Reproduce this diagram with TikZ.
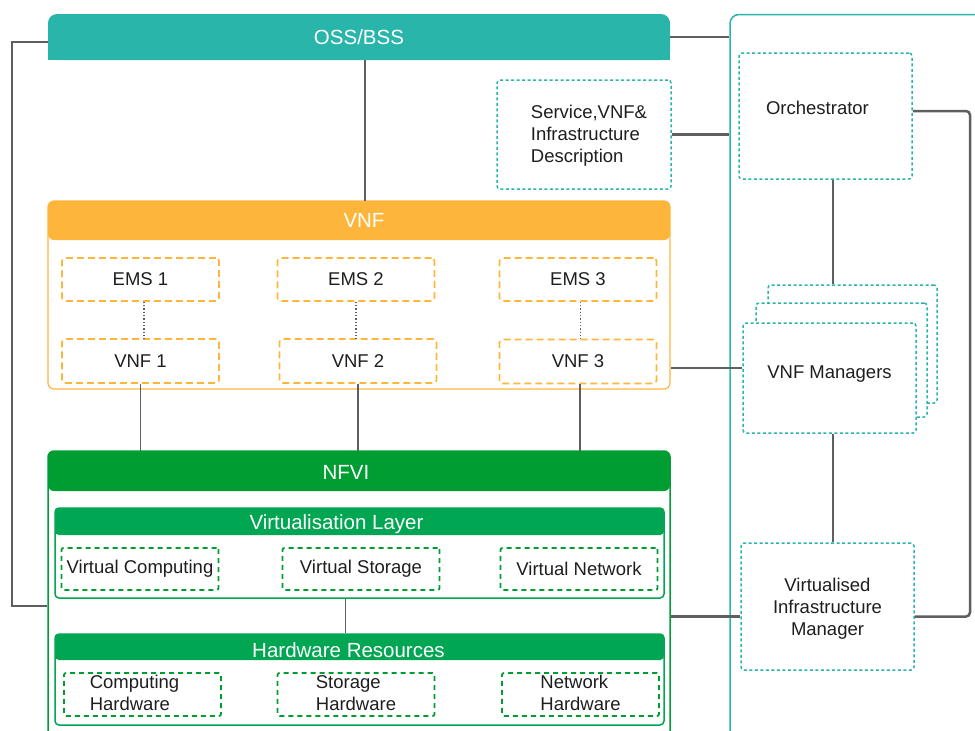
\documentclass[tikz,border=0pt]{standalone}
\usepackage{fontspec}
\setmainfont{Liberation Sans}
\usetikzlibrary{positioning}
\definecolor{ossteal}{RGB}{42, 181, 170}
\definecolor{vnforange}{RGB}{253, 181, 59}
\definecolor{nfvigreen}{RGB}{0, 158, 50}
\definecolor{layergreen}{RGB}{0, 166, 81}
\definecolor{linegray}{RGB}{95, 95, 95}
\definecolor{textgray}{RGB}{30, 30, 30}
\tikzset{labeltext/.style={font=\fontsize{18.5}{22}\selectfont,text=textgray,align=center}}
\tikzset{headtext/.style={font=\fontsize{20.5}{24}\selectfont,text=white,inner sep=0pt}}
\tikzset{tealdot/.style={draw=ossteal,line width=1.5pt,dash pattern=on 3pt off 2.5pt,rounded corners=3pt,fill=white,minimum width=173pt,inner sep=0pt,labeltext}}
\tikzset{orangedash/.style={draw=vnforange,line width=1.6pt,dash pattern=on 7pt off 4pt,rounded corners=3pt,minimum width=157pt,minimum height=43pt,inner sep=0pt,labeltext}}
\tikzset{greendash/.style={draw=nfvigreen,line width=1.8pt,dash pattern=on 5pt off 4pt,rounded corners=2pt,minimum width=157pt,minimum height=42pt,inner sep=0pt,labeltext}}
\tikzset{link/.style={linegray,line width=2.5pt}}
\tikzset{thinlink/.style={linegray,line width=1.5pt}}

\begin{document}
\begin{tikzpicture}[x=1pt,y=-1pt]
	\useasboundingbox (0,0) rectangle (975,731);
	\clip (0,0) rectangle (975,731);
	% management frame on the right
	\node[draw=ossteal,line width=1.5pt,rounded corners=9pt,minimum width=270pt,minimum height=731pt,inner sep=0pt] (mano) at (865,380) {};
	% OSS/BSS bar
	\fill[ossteal,rounded corners=9pt] (48,14) rectangle (670,60);
	\fill[ossteal] (48,40) rectangle (670,60);
	\node[headtext,minimum width=622pt,minimum height=46pt] (oss) at (359,37) {OSS/BSS};
	% descriptors and orchestrator
	\node[tealdot,minimum width=174pt,minimum height=109pt,label={[labeltext,xshift=5pt,yshift=-2pt]center:\begin{tabular}{@{}l@{}}Service,VNF\&\\Infrastructure\\Description\end{tabular}}] (desc) at (584,134.5) {};
	\node[tealdot,minimum height=126pt,label={[labeltext,xshift=-8pt,yshift=8pt]center:Orchestrator}] (orch) at (825.5,116) {};
	% VNF managers
	\node[tealdot,minimum width=169pt,minimum height=118pt] (vnfmback) at (852.5,344) {};
	\node[tealdot,minimum width=171pt,minimum height=114pt] (vnfmmid) at (841.5,360) {};
	\node[tealdot,minimum height=110pt,label={[labeltext,yshift=4pt]center:VNF Managers}] (vnfm) at (829.5,378) {};
	\node[tealdot,minimum height=127pt,label={[labeltext,yshift=-2pt]center:Virtualised\\Infrastructure\\Manager}] (vim) at (827.5,606.5) {};
	% VNF block
	\node[draw=vnforange,line width=1.2pt,rounded corners=6pt,minimum width=622pt,minimum height=188pt,inner sep=0pt] (vnf) at (359,295) {};
	\node[headtext,fill=vnforange,rounded corners=6pt,minimum width=622pt,minimum height=39pt,label={[headtext,xshift=5pt]center:VNF}] (vnfhead) at (359,220.5) {};
	\node[orangedash] (ems1) at (140.5,279.5) {EMS 1};
	\node[orangedash] (ems2) at (356,279.5) {EMS 2};
	\node[orangedash] (ems3) at (578,279.5) {EMS 3};
	\node[orangedash,minimum height=44pt] (vnf1) at (140.5,361) {VNF 1};
	\node[orangedash,minimum height=44pt] (vnf2) at (358,361) {VNF 2};
	\node[orangedash,minimum height=44pt] (vnf3) at (578,361.5) {VNF 3};
	% NFVI block
	\node[draw=nfvigreen,line width=1.5pt,rounded corners=6pt,minimum width=622pt,minimum height=294pt,inner sep=0pt] (nfvi) at (359,598) {};
	\node[headtext,fill=nfvigreen,rounded corners=6pt,minimum width=622pt,minimum height=40pt,label={[headtext,xshift=-13pt,yshift=-1pt]center:NFVI}] (nfvihead) at (359,471) {};
	\node[draw=layergreen,line width=1.5pt,rounded corners=4pt,minimum width=609pt,minimum height=90pt,inner sep=0pt] (virt) at (359.5,553) {};
	\node[headtext,fill=layergreen,rounded corners=4pt,minimum width=609pt,minimum height=27pt,label={[headtext,xshift=-23pt,yshift=-3pt]center:Virtualisation Layer}] (virthead) at (359.5,521.5) {};
	\node[greendash] (vcomp) at (140,569) {Virtual Computing};
	\node[greendash] (vstor) at (361,569) {Virtual Storage};
	\node[greendash] (vnet) at (579,569) {Virtual Network};
	\node[draw=layergreen,line width=1.5pt,rounded corners=4pt,minimum width=609pt,minimum height=91pt,inner sep=0pt] (hw) at (359.5,679.5) {};
	\node[headtext,fill=layergreen,rounded corners=4pt,minimum width=609pt,minimum height=26pt,label={[headtext,xshift=-11pt,yshift=-3pt]center:Hardware Resources}] (hwhead) at (359.5,647) {};
	\node[greendash,minimum height=43pt,label={[labeltext,xshift=-8pt,yshift=-1pt]center:\begin{tabular}{@{}l@{}}Computing\\Hardware\end{tabular}}] (chw) at (142.5,694.5) {};
	\node[greendash,minimum height=43pt,label={[labeltext,yshift=-1pt]center:\begin{tabular}{@{}l@{}}Storage\\Hardware\end{tabular}}] (shw) at (356,694.5) {};
	\node[greendash,minimum height=43pt,label={[labeltext,yshift=-1pt]center:\begin{tabular}{@{}l@{}}Network\\Hardware\end{tabular}}] (nhw) at (580.5,694.5) {};
	% connectors
	\coordinate (lturn) at (12,0);
	\coordinate (rturn) at (970,0);
	\draw[thinlink] ([yshift=-5pt]oss.west) -- ([yshift=-5pt]oss.west -| lturn) |- ([yshift=-8pt]nfvi.west);
	\draw[link] (oss.east) -- (oss.east -| mano.west);
	\draw[link] (desc.east) -- (desc.east -| mano.west);
	\draw[thinlink] ([xshift=6pt]oss.south) -- ([xshift=6pt]vnfhead.north);
	\draw[link,rounded corners=4pt] ([yshift=5pt]orch.east) -- ([yshift=5pt]orch.east -| rturn) |- ([yshift=-10pt]vim.east);
	\draw[link] ([xshift=7.5pt]orch.south) -- ([xshift=7.5pt]orch.south |- vnfmback.north);
	\draw[link] ([xshift=3.5pt]vnfm.south) -- ([xshift=3.5pt]vnfm.south |- vim.north);
	\draw[link] ([yshift=10pt]vnfm.west) -- ([yshift=10pt]vnfm.west -| vnf.east);
	\draw[link] ([yshift=-10pt]vim.west) -- ([yshift=-10pt]vim.west -| nfvi.east);
	\draw[linegray,line width=1.3pt,dotted] ([xshift=3.5pt]ems1.south) -- ([xshift=3.5pt]ems1.south |- vnf1.north);
	\draw[linegray,line width=1.3pt,dotted] (ems2.south) -- (ems2.south |- vnf2.north);
	\draw[linegray,line width=1.3pt,dotted] ([xshift=2.5pt]ems3.south) -- ([xshift=2.5pt]ems3.south |- vnf3.north);
	\draw[thinlink] (vnf1.south) -- (vnf1.south |- nfvihead.north);
	\draw[thinlink] (vnf2.south) -- (vnf2.south |- nfvihead.north);
	\draw[thinlink] ([xshift=2pt]vnf3.south) -- ([xshift=2pt]vnf3.south |- nfvihead.north);
	\draw[thinlink] ([xshift=-14pt]virt.south) -- ([xshift=-14pt]hw.north);
\end{tikzpicture}
\end{document}
